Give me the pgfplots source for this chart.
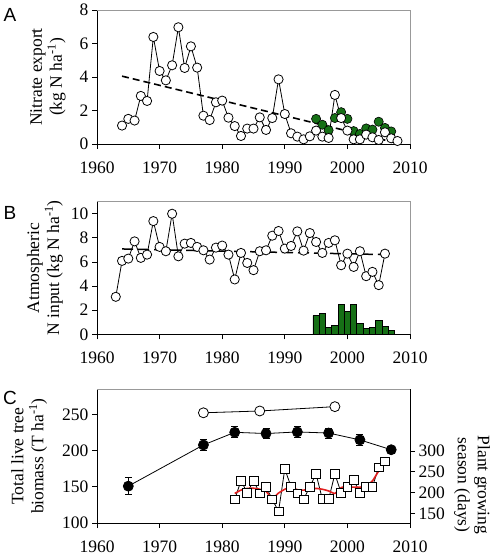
\documentclass[border=0pt]{standalone}
\usepackage{pgfplots}
\pgfplotsset{compat=1.18}
\usepackage{fontspec}
\setmainfont{Liberation Serif}
\newfontfamily\sansf{Liberation Sans}
\definecolor{dg}{RGB}{22,112,22}
\definecolor{rl}{RGB}{225,30,30}
\pgfplotsset{
 base/.style={
  scale only axis, width=313bp, height=134bp,
  xmin=1960, xmax=2010, xtick={1960,1970,...,2010},
  axis lines*=left, axis line style={line width=0.8bp},
  tick align=outside, major tick length=5bp, tick style={line width=0.8bp, black},
  tick label style={font=\rmfamily\fontsize{17.5bp}{20bp}\selectfont},
  label style={font=\rmfamily\fontsize{17.5bp}{20bp}\selectfont, align=center},
  xticklabel={\pgfmathprintnumber[assume math mode=true, 1000 sep={}]{\tick}},
  yticklabel={\pgfmathprintnumber[assume math mode=true]{\tick}},
  xticklabel style={yshift=-9bp},
  clip=false,
 },
 frame/.style={extra description/.code={\draw[gray!80, line width=0.6bp] (0,1) -- (1,1) -- (1,0);}},
 wc/.style={black, line width=0.8bp, mark=*, mark size=4.6bp, mark options={fill=white, line width=0.8bp}},
}
\begin{document}
\begin{tikzpicture}
\path[use as bounding box] (0,0) rectangle (492bp,-556bp);
\node[font=\sansf\fontsize{19bp}{19bp}\selectfont] at (10bp,-15bp) {A};
\node[font=\sansf\fontsize{19bp}{19bp}\selectfont] at (10bp,-212.5bp) {B};
\node[font=\sansf\fontsize{19bp}{19bp}\selectfont] at (10bp,-398bp) {C};

% ---------- Panel A
\begin{axis}[base, frame, at={(97bp,-10bp)}, anchor=north west,
  ymin=0, ymax=8, ytick={0,2,4,6,8},
  ylabel={Nitrate export\\(kg N ha\textsuperscript{-1})},
  ylabel style={at={(axis description cs:-0.157,0.5)}, anchor=center}]
\addplot[only marks, mark=*, mark size=4.6bp, mark options={fill=dg, draw=black, line width=0.6bp}] coordinates {
(1995,1.50)(1996,1.15)(1997,0.82)(1998,1.55)(1999,1.90)(2000,1.50)(2001,0.77)(2002,0.60)(2003,0.93)(2004,0.86)(2005,1.33)(2006,0.96)(2007,0.75)};
\addplot[black, line width=1.6bp, dash pattern=on 7bp off 4bp] coordinates {(1964,4.05)(2008,0.05)};
\addplot[wc] coordinates {
(1964,1.10)(1965,1.50)(1966,1.40)(1967,2.87)(1968,2.57)(1969,6.39)(1970,4.36)(1971,3.80)(1972,4.70)(1973,6.97)
(1974,4.54)(1975,5.83)(1976,4.56)(1977,1.69)(1978,1.43)(1979,2.49)(1980,2.59)(1981,1.57)(1982,1.07)(1983,0.48)
(1984,0.92)(1985,0.92)(1986,1.59)(1987,0.84)(1988,1.55)(1989,3.86)(1990,1.79)(1991,0.64)(1992,0.44)(1993,0.28)
(1994,0.46)(1995,0.80)(1996,0.44)(1997,0.36)(1998,2.93)(1999,1.55)(2000,0.80)(2001,0.28)(2002,0.28)(2003,0.56)
(2004,0.40)(2005,0.24)(2006,0.70)(2007,0.34)(2008,0.18)};
\end{axis}

% ---------- Panel B
\begin{axis}[base, frame, at={(97bp,-201.7bp)}, anchor=north west, height=132.6bp,
  ymin=0, ymax=11, ytick={0,2,4,6,8,10},
  ylabel={Atmospheric\\N input (kg N ha\textsuperscript{-1})},
  ylabel style={at={(axis description cs:-0.166,0.5)}, anchor=center}]
\addplot[ybar, bar width=1, fill=dg, draw=black, line width=0.6bp] coordinates {
(1995,1.54)(1996,1.73)(1997,0.58)(1998,0.72)(1999,2.48)(2000,1.93)(2001,2.48)(2002,0.91)(2003,0.46)(2004,0.54)(2005,1.17)(2006,0.63)(2007,0.33)};
\addplot[black, line width=1.5bp, dash pattern=on 11bp off 5bp] coordinates {(1964,7.08)(2007,6.60)};
\addplot[wc] coordinates {
(1963,3.11)(1964,6.09)(1965,6.28)(1966,7.71)(1967,6.34)(1968,6.61)(1969,9.39)(1970,7.25)(1971,6.89)(1972,10.0)
(1973,6.47)(1974,7.52)(1975,7.58)(1976,7.25)(1977,6.97)(1978,6.20)(1979,7.19)(1980,7.36)(1981,6.61)(1982,4.55)
(1983,6.75)(1984,5.92)(1985,5.32)(1986,6.89)(1987,6.97)(1988,8.18)(1989,8.57)(1990,7.11)(1991,7.33)(1992,8.54)
(1993,6.94)(1994,8.40)(1995,7.66)(1996,6.75)(1997,7.58)(1998,7.80)(1999,5.73)(2000,6.69)(2001,5.59)(2002,6.89)
(2003,4.82)(2004,5.18)(2005,4.08)(2006,6.69)};
\end{axis}

% ---------- Panel C (right axis)
\begin{axis}[base, at={(97bp,-389.3bp)}, anchor=north west, height=133.7bp,
  axis x line=none, axis y line*=right,
  ymin=127, ymax=448, ytick={150,200,250,300}]
\addplot[black, line width=0.8bp, mark=square*, mark size=4.4bp, mark options={fill=white, line width=0.8bp}] coordinates {
(1982,183.6)(1983,228.5)(1984,199.6)(1985,228.5)(1986,198)(1987,214)(1988,183.6)(1989,155)(1990,257)(1991,214)
(1992,198)(1993,183.6)(1994,214)(1995,244.6)(1996,184)(1997,184)(1998,244.6)(1999,199.6)(2000,214)(2001,230)
(2002,200)(2003,214)(2004,214)(2005,260.7)(2006,275)};
\addplot[rl, line width=1.6bp, smooth, tension=0.3] coordinates {
(1982,198)(1983,206)(1984,210)(1985,210.5)(1986,208)(1987,203)(1988,186)(1989,199)(1990,208)(1991,213)
(1992,207)(1993,206)(1994,208)(1995,210)(1996,208)(1997,204)(1998,198)(1999,212)(2000,214)(2001,213)
(2002,213)(2003,216)(2004,228)(2005,252)(2006,274)};
\node[rotate=-90, align=center, font=\rmfamily\fontsize{17.5bp}{20bp}\selectfont] at (rel axis cs:1.198,0.284) {Plant growing\\season (days)};
\end{axis}

% ---------- Panel C (left axis)
\begin{axis}[base, at={(97bp,-389.3bp)}, anchor=north west, height=133.7bp,
  ymin=100, ymax=285, ytick={100,150,200,250},
  ylabel={Total live tree\\biomass (T ha\textsuperscript{-1})},
  ylabel style={at={(axis description cs:-0.217,0.5)}, anchor=center},
  extra description/.code={\draw[gray!80, line width=0.6bp] (0,1) -- (1,1);}]
\addplot[black, line width=0.8bp, mark=*, mark size=5bp, mark options={fill=white, line width=0.8bp}] coordinates {
(1977,252.5)(1986,255)(1998,261)};
\addplot[black, line width=0.8bp, mark=*, mark size=5bp, mark options={fill=black},
  error bars/.cd, y dir=both, y explicit, error mark options={rotate=90, mark size=3.5bp, line width=0.8bp}, error bar style={line width=0.8bp}]
  coordinates {
(1965,151) +- (0,11.7)
(1977,208) +- (0,7)
(1982,225.5) +- (0,7.5)
(1987,223.8) +- (0,7)
(1992,226) +- (0,7.5)
(1997,224.5) +- (0,7)
(2002,215) +- (0,7)
(2007,201.4) +- (0,5)};
\end{axis}
\end{tikzpicture}
\end{document}
